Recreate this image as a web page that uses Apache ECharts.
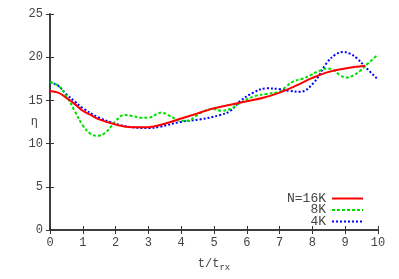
<!DOCTYPE html>
<html><head><meta charset="utf-8">
<script src="https://cdn.jsdelivr.net/npm/echarts@6/dist/echarts.min.js"></script>
<style>html,body{margin:0;padding:0;background:#fff}#c{width:399px;height:279px}</style>
</head><body><div id="c"></div>
<script>
var xTicks = [0,1,2,3,4,5,6,7,8,9,10];
var yTicks = [0,5,10,15,20,25];

var tRed   = [0,0.25,0.5,0.75,1,1.25,1.5,2,2.5,3,3.5,4,4.5,5,5.5,6,6.5,7,7.5,8,8.5,9,9.6];
var etaRed = [16.1,15.9,15.3,14.6,13.8,13.3,12.8,12.2,11.9,11.9,12.3,12.9,13.5,14.1,14.5,14.9,15.3,15.9,16.7,17.6,18.3,18.7,19.0];

var tGreen   = [0,0.25,0.5,0.75,1,1.25,1.45,1.7,2,2.25,2.5,2.75,3,3.25,3.4,3.6,3.8,3.96,4.2,4.45,4.67,4.97,5.23,5.54,5.79,6.25,6.6,7,7.2,7.42,7.7,7.93,8.2,8.45,8.65,8.85,9.05,9.25,9.45,9.7,10];
var etaGreen = [17.1,16.7,15.5,13.8,12.1,11.1,10.9,11.3,12.6,13.3,13.2,13.0,13.0,13.4,13.6,13.3,12.9,12.65,12.65,13.2,13.7,14.0,13.8,14.1,14.7,15.5,15.75,16.0,16.6,17.2,17.5,17.9,18.4,18.7,18.5,17.9,17.65,17.9,18.4,19.3,20.3];

var tBlue   = [0,0.25,0.5,0.75,1,1.5,2,2.5,3,3.35,3.96,4.57,5.18,5.5,5.79,6.2,6.6,7,7.3,7.62,8.03,8.43,8.7,8.94,9.15,9.35,9.66,10];
var etaBlue = [17.1,16.7,15.7,14.9,14.1,13.0,12.3,11.9,11.8,11.95,12.5,12.8,13.3,13.8,14.9,15.9,16.4,16.3,16.1,16.0,17.0,19.3,20.3,20.6,20.4,19.9,18.7,17.4];

var names = ['N=16K','8K','4K'];
function pairs(t,v){return t.map(function(x,i){return [x,v[i]];});}

var font = 'Liberation Mono';
var txtColor = '#444';
var axisCol = '#333';

function legendAt(name, top){
  return {data:[name], right:35, top:top, orient:'vertical', align:'right', padding:0,
    itemWidth:31, itemHeight:6, itemGap:0, itemStyle:{opacity:0},
    textStyle:{fontFamily:font, fontSize:13, color:txtColor, padding:[0,1,0,0]}};
}

var chart = echarts.init(document.getElementById('c'), null, {renderer:'canvas'});
var common = {min:0, axisLine:{show:true, lineStyle:{color:axisCol,width:1.5}}, axisTick:{show:true, inside:true, length:4, lineStyle:{color:axisCol}}, splitLine:{show:false}};
chart.setOption({
  animation:false,
  grid:{left:50, right:21, top:14, bottom:49},
  legend:[legendAt(names[0],192), legendAt(names[1],203.5), legendAt(names[2],215)],
  xAxis:[
    Object.assign({type:'value', max:10, interval:1, position:'bottom',
      name:'t/t{s|rx}', nameLocation:'middle', nameGap:25,
      nameTextStyle:{fontFamily:font, fontSize:12, color:txtColor, rich:{s:{fontFamily:font,fontSize:9,color:txtColor,padding:[8,0,0,0]}}},
      axisLabel:{fontFamily:font, fontSize:12, color:txtColor, margin:7}}, common),
    Object.assign({type:'value', max:10, interval:1, position:'top', axisLabel:{show:false}}, common)
  ],
  yAxis:[
    Object.assign({type:'value', max:25, interval:5, position:'left',
      name:'η', nameLocation:'middle', nameRotate:0, nameGap:12, nameMoveOverlap:false,
      nameTextStyle:{fontFamily:font, fontSize:12, color:txtColor},
      axisLabel:{fontFamily:font, fontSize:12, color:txtColor, margin:7}}, common),
    Object.assign({type:'value', max:25, interval:5, position:'right', axisLabel:{show:false}}, common)
  ],
  series:[
    {name:names[0], type:'line', data:pairs(tRed,etaRed), smooth:0.4, showSymbol:false, symbol:'none',
      lineStyle:{color:'#ff0000', width:2}, itemStyle:{color:'#ff0000'}, z:3},
    {name:names[1], type:'line', data:pairs(tGreen,etaGreen), smooth:0.4, showSymbol:false, symbol:'none',
      lineStyle:{color:'#00e000', width:2, type:[3,2]}, itemStyle:{color:'#00e000'}, z:2},
    {name:names[2], type:'line', data:pairs(tBlue,etaBlue), smooth:0.4, showSymbol:false, symbol:'none',
      lineStyle:{color:'#0000ff', width:2, type:[2,2]}, itemStyle:{color:'#0000ff'}, z:1}
  ]
});
</script></body></html>
